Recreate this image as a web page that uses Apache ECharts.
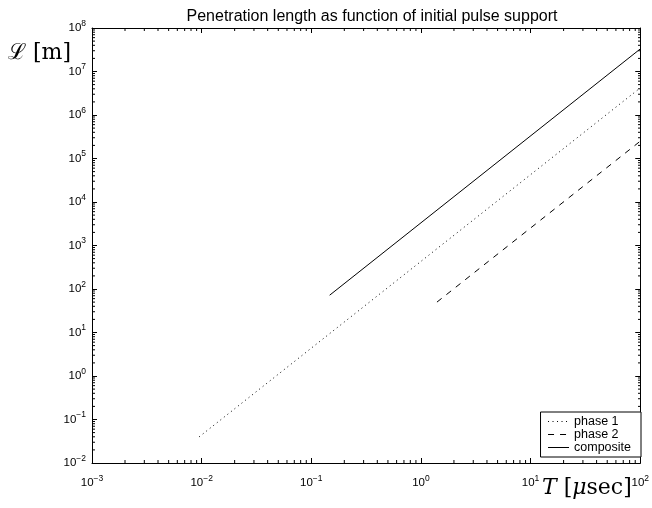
<!DOCTYPE html>
<html>
<head>
<meta charset="utf-8">
<script src="https://cdn.jsdelivr.net/npm/echarts@6/dist/echarts.min.js"></script>
<style>
  html, body { margin: 0; padding: 0; background: #fff; }
  #chart { width: 652px; height: 508px; }
</style>
</head>
<body>
<div id="chart"></div>
<script>
// data (log-log, straight lines)
var phase1T = [0.0095, 100];
var phase1L = [0.04, 4.2e6];
var phase2T = [1.4, 100];
var phase2L = [50, 2.5e5];
var compositeT = [0.147, 100];
var compositeL = [72, 3.3e7];

var xMin = 1e-3, xMax = 1e2;
var yMin = 1e-2, yMax = 1e8;

function pairs(xs, ys) {
    var out = [];
    for (var i = 0; i < xs.length; i++) out.push([xs[i], ys[i]]);
    return out;
}

// 10^n labels
function powLabel(v) {
    var e = Math.round(Math.log10(v));
    return '{b|10}{s|' + (e < 0 ? '\u2212' + (-e) : e) + '}';
}
var labelRich = {
    b: { fontSize: 11.5, fontFamily: 'Liberation Sans', color: '#000' },
    s: { fontSize: 8.5, fontFamily: 'Liberation Sans', color: '#000', padding: [0, 0, 9, 0] }
};

var G = { left: 92, right: 11, top: 28, bottom: 45 };

var chart = echarts.init(document.getElementById('chart'));

var axisCommon = {
    type: 'log',
    logBase: 10,
    interval: 1,
    splitLine: { show: false },
    axisLine: { show: true, lineStyle: { color: '#000', width: 1 } },
    axisTick: { show: true, inside: true, length: 5, lineStyle: { color: '#000' } }
};

var option = {
    animation: false,
    backgroundColor: '#fff',
    title: {
        text: 'Penetration length as function of initial pulse support',
        left: 367, top: 4, textAlign: 'center',
        textStyle: { fontFamily: 'Liberation Sans', fontSize: 16, fontWeight: 'normal', color: '#000' }
    },
    grid: { left: G.left, right: G.right, top: G.top, bottom: G.bottom },
    xAxis: [
        Object.assign({}, axisCommon, {
            min: xMin, max: xMax, position: 'bottom',
            axisLabel: { formatter: powLabel, rich: labelRich, margin: 11 }
        }),
        Object.assign({}, axisCommon, {
            min: xMin, max: xMax, position: 'top',
            axisLabel: { show: false }
        })
    ],
    yAxis: [
        Object.assign({}, axisCommon, {
            min: yMin, max: yMax, position: 'left',
            axisLabel: { formatter: powLabel, rich: labelRich, margin: 6 }
        }),
        Object.assign({}, axisCommon, {
            min: yMin, max: yMax, position: 'right',
            axisLabel: { show: false }
        })
    ],
    legend: {
        orient: 'vertical',
        right: 11, bottom: 51,
        backgroundColor: '#fff',
        borderColor: '#000', borderWidth: 1,
        padding: [3, 10, 3, 7],
        itemWidth: 21, itemHeight: 9, itemGap: 0,
        itemStyle: { opacity: 0 },
        lineStyle: { width: 1 },
        textStyle: { fontFamily: 'Liberation Sans', fontSize: 12.5, lineHeight: 13, color: '#000' },
        data: ['phase 1', 'phase 2', 'composite']
    },
    series: [
        {
            name: 'phase 1', type: 'line', symbol: 'none',
            data: pairs(phase1T, phase1L),
            lineStyle: { color: '#000', width: 1, type: [1, 3.5] },
            itemStyle: { color: '#000' }
        },
        {
            name: 'phase 2', type: 'line', symbol: 'none',
            data: pairs(phase2T, phase2L),
            lineStyle: { color: '#000', width: 1, type: [6, 6] },
            itemStyle: { color: '#000' }
        },
        {
            name: 'composite', type: 'line', symbol: 'none',
            data: pairs(compositeT, compositeL),
            lineStyle: { color: '#000', width: 1, type: 'solid' },
            itemStyle: { color: '#000' }
        }
    ],
    graphic: [
        {
            type: 'text', left: 8, top: 42,
            style: { text: '\u2112 [m]', font: '22px "DejaVu Serif"', fill: '#000' }
        },
        {
            type: 'text', left: 542, top: 477,
            style: { text: '{i|T} [{i|\u03bc}sec]', font: '22px "DejaVu Serif"', fill: '#000',
                rich: { i: { fontStyle: 'italic', fontFamily: 'DejaVu Serif', fontSize: 22 } } }
        }
    ]
};
chart.setOption(option);

// minor ticks at 2..9 of every decade, placed with the axis scales
var minor = [];
var x0 = G.left, x1 = 652 - G.right, y0 = G.top, y1 = 508 - G.bottom;
var tl = 3;
for (var d = -3; d < 2; d++) {
    for (var k = 2; k < 10; k++) {
        var px = chart.convertToPixel({ xAxisIndex: 0 }, k * Math.pow(10, d));
        minor.push({ type: 'line', shape: { x1: px, y1: y1, x2: px, y2: y1 - tl }, style: { stroke: '#000', lineWidth: 1 }, silent: true });
        minor.push({ type: 'line', shape: { x1: px, y1: y0, x2: px, y2: y0 + tl }, style: { stroke: '#000', lineWidth: 1 }, silent: true });
    }
}
for (var d2 = -2; d2 < 8; d2++) {
    for (var k2 = 2; k2 < 10; k2++) {
        var py = chart.convertToPixel({ yAxisIndex: 0 }, k2 * Math.pow(10, d2));
        minor.push({ type: 'line', shape: { x1: x0, y1: py, x2: x0 + tl, y2: py }, style: { stroke: '#000', lineWidth: 1 }, silent: true });
        minor.push({ type: 'line', shape: { x1: x1, y1: py, x2: x1 - tl, y2: py }, style: { stroke: '#000', lineWidth: 1 }, silent: true });
    }
}
chart.setOption({ graphic: option.graphic.concat(minor) });
</script>
</body>
</html>
